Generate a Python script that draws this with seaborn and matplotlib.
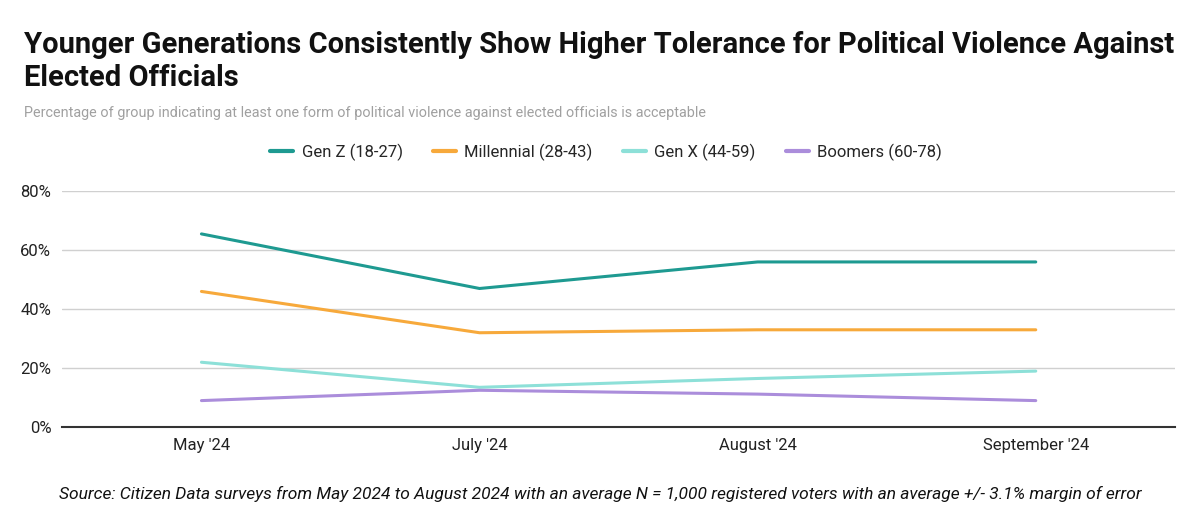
import pandas as pd
import seaborn as sns
import matplotlib
matplotlib.use('Agg')
import matplotlib.pyplot as plt
from matplotlib.ticker import PercentFormatter

months = ["May '24", "July '24", "August '24", "September '24"]
gen_z = [65.5, 47, 56, 56]
millennial = [46, 32, 33, 33]
gen_x = [22, 13.5, 16.5, 19]
boomers = [9, 12.5, 11.2, 9]

groups = ['Gen Z (18-27)', 'Millennial (28-43)', 'Gen X (44-59)', 'Boomers (60-78)']
colors = ['#1e9a91', '#f7a93b', '#8de0d8', '#ab8ddb']

rows = []
for name, vals in zip(groups, [gen_z, millennial, gen_x, boomers]):
    for m, v in zip(months, vals):
        rows.append({'month': m, 'value': v, 'group': name})
df = pd.DataFrame(rows)

sns.set_style('white')
plt.rcParams['font.family'] = ['Roboto', 'DejaVu Sans']

fig = plt.figure(figsize=(12, 5.28), dpi=100)
ax = fig.add_axes([0.052, 0.191, 0.927, 0.447])

sns.lineplot(data=df, x='month', y='value', hue='group', palette=colors,
             linewidth=2.2, ax=ax, sort=False, legend=False)

ax.set_xlim(-0.5, 3.5)
ax.set_ylim(0, 80)
ax.set_yticks([0, 20, 40, 60, 80])
ax.yaxis.set_major_formatter(PercentFormatter(decimals=0))
ax.grid(axis='y', color='#d0d0d0', linewidth=1)
ax.set_axisbelow(True)
for s in ['left', 'right', 'top']:
    ax.spines[s].set_visible(False)
ax.spines['bottom'].set_color('#333333')
ax.spines['bottom'].set_linewidth(1.5)
ax.tick_params(axis='both', length=0, labelsize=12, colors='#222222', pad=8)
ax.set_xlabel('')
ax.set_ylabel('')

handles = [plt.Line2D([], [], color=c, linewidth=3) for c in colors]
fig.legend(handles, groups, loc='center', bbox_to_anchor=(0.505, 0.712), ncol=4,
           frameon=False, fontsize=12, handlelength=1.4, columnspacing=1.8,
           handletextpad=0.5)

fig.text(0.02, 0.914, 'Younger Generations Consistently Show Higher Tolerance for Political Violence Against',
         fontsize=21, fontweight='bold', color='#111111', va='center')
fig.text(0.02, 0.853, 'Elected Officials', fontsize=21, fontweight='bold',
         color='#111111', va='center')
fig.text(0.02, 0.786, 'Percentage of group indicating at least one form of political violence against elected officials is acceptable',
         fontsize=10.4, color='#a0a0a0', va='center')
fig.text(0.5, 0.064, 'Source: Citizen Data surveys from May 2024 to August 2024 with an average N = 1,000 registered voters with an average +/- 3.1% margin of error',
         fontsize=12.5, style='italic', color='#111111', ha='center', va='center')

fig.savefig('out.png', dpi=100)
